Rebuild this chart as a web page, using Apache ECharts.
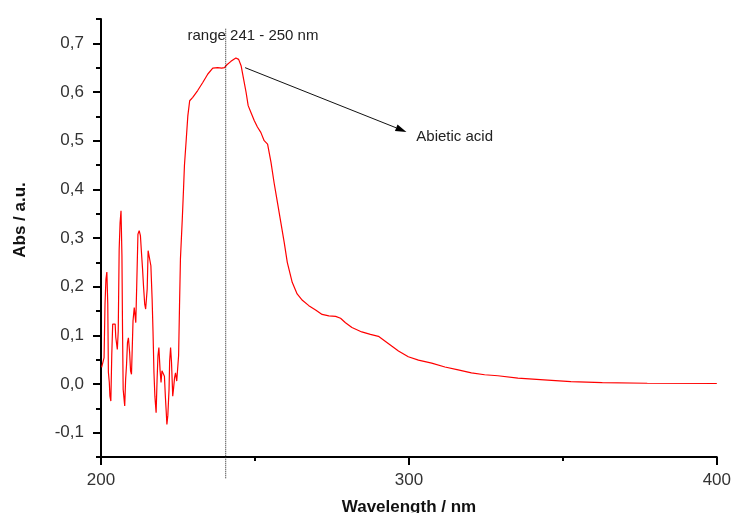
<!DOCTYPE html>
<html><head><meta charset="utf-8">
<script src="https://cdn.jsdelivr.net/npm/echarts@6/dist/echarts.min.js"></script>
<style>html,body{margin:0;padding:0;background:#fff}#c{width:734px;height:513px}</style>
</head><body><div id="c"></div>
<script>
// ---- data ----
const wavelength = [
200.2,200.7,201.0,201.3,201.6,201.9,202.2,202.4,202.7,202.9,203.2,203.5,203.8,204.2,204.6,204.8,205.3,205.6,205.9,206.2,
206.5,206.8,207.0,207.2,207.7,208.0,208.3,208.6,208.9,209.3,209.6,209.9,210.2,210.4,210.8,211.1,211.3,211.6,212.0,212.4,
212.8,213.1,213.5,213.8,214.2,214.5,215.0,215.3,215.8,216.2,216.6,216.9,217.2,217.5,217.9,218.2,218.5,218.8,219.2,219.5,
219.8,220.1,220.6,220.9,221.2,221.4,221.7,222.1,222.3,222.6,222.9,223.3,223.6,223.9,224.2,224.6,224.9,225.2,225.5,225.8,
226.4,226.8,227.1,227.7,228.2,228.8,229.8,231.4,233.1,234.7,236.3,237.9,239.2,240.1,240.9,242.2,243.8,244.7,245.5,246.3,
247.1,247.8,248.7,249.8,250.8,251.9,253.0,254.1,255.2,256.2,257.3,258.4,259.5,260.5,262.1,263.7,265.4,267.5,269.7,271.8,
274.0,276.2,277.8,279.4,281.5,284.7,287.5,290.1,292.3,294.4,296.6,299.8,303.1,307.4,311.7,316.0,320.3,324.6,328.9,335.4,
345.1,352.6,362.8,377.4,400.0
];
const absorbance = [
0.034,0.030,0.054,0.164,0.215,0.230,0.164,0.024,0.003,-0.025,-0.035,0.061,0.123,0.124,0.123,0.096,0.071,0.109,0.277,0.332,
0.356,0.263,0.106,-0.011,-0.045,0.010,0.040,0.085,0.095,0.065,0.027,0.020,0.085,0.130,0.157,0.160,0.126,0.202,0.308,0.315,
0.305,0.274,0.236,0.202,0.164,0.154,0.195,0.274,0.274,0.243,0.175,0.106,0.023,-0.025,-0.059,0.006,0.058,0.075,0.027,0.003,
0.027,0.027,0.016,-0.025,-0.059,-0.083,-0.065,-0.011,0.047,0.075,0.044,-0.025,-0.007,0.013,0.023,0.006,0.003,0.058,0.160,0.257,
0.339,0.400,0.449,0.504,0.551,0.582,0.589,0.603,0.620,0.637,0.649,0.650,0.649,0.650,0.656,0.663,0.670,0.667,0.654,0.627,
0.600,0.572,0.558,0.541,0.528,0.517,0.500,0.493,0.456,0.414,0.373,0.332,0.291,0.250,0.209,0.185,0.172,0.161,0.152,0.143,
0.140,0.139,0.135,0.126,0.116,0.107,0.102,0.098,0.088,0.078,0.068,0.056,0.049,0.043,0.035,0.029,0.023,0.019,0.017,0.012,
0.008,0.005,0.003,0.0015,0.001
];
const xMajorTicks = [200, 300, 400];
const yMajorTicks = [-0.1, 0.0, 0.1, 0.2, 0.3, 0.4, 0.5, 0.6, 0.7];
const yMinorTicks = [-0.15, -0.05, 0.05, 0.15, 0.25, 0.35, 0.45, 0.55, 0.65, 0.75];
const xTitle = 'Wavelength / nm';
const yTitle = 'Abs / a.u.';
// annotations
const rangeLineX = 240.5;
const rangeLineSpan = [0.73, -0.195];
const rangeLabel = 'range 241 - 250 nm';
const rangeLabelAt = [228.1, 0.715];
const arrowFrom = [246.8, 0.650];
const arrowTo = [299.2, 0.518];
const arrowLabel = 'Abietic acid';
const arrowLabelAt = [302.4, 0.508];

const FONT = '"Liberation Sans", Arial, sans-serif';
const fmt = v => (Math.round(v * 10) / 10).toFixed(1).replace('.', ',');

const chart = echarts.init(document.getElementById('c'), null, {renderer: 'canvas'});
const seriesData = wavelength.map((w, i) => [w, absorbance[i]]);

chart.setOption({
  animation: false,
  backgroundColor: '#fff',
  grid: {left: 101, right: 14, top: 19, bottom: 56, containLabel: false},
  xAxis: {
    type: 'value', min: 200, max: 400, interval: 100,
    axisLine: {onZero: false, lineStyle: {color: '#000', width: 2}},
    axisTick: {length: 8, lineStyle: {color: '#000', width: 2}},
    minorTick: {show: true, splitNumber: 2, length: 4, lineStyle: {color: '#000', width: 2}},
    axisLabel: {margin: 15, fontSize: 17, color: '#333', fontFamily: FONT,
      formatter: v => xMajorTicks.includes(v) ? String(v) : ''},
    splitLine: {show: false}
  },
  yAxis: [{
    type: 'value', min: -0.15, max: 0.75, position: 'left',
    axisLine: {onZero: false, lineStyle: {color: '#000', width: 2}},
    axisTick: {length: 8, customValues: yMajorTicks, lineStyle: {color: '#000', width: 2}},
    axisLabel: {margin: 17, fontSize: 17, color: '#333', fontFamily: FONT,
      customValues: yMajorTicks, formatter: v => fmt(v)},
    splitLine: {show: false}
  }, {
    type: 'value', min: -0.15, max: 0.75, position: 'left', offset: 0,
    axisLine: {show: false, onZero: false},
    axisTick: {length: 5, customValues: yMinorTicks, lineStyle: {color: '#000', width: 2}},
    axisLabel: {show: false},
    splitLine: {show: false}
  }],
  series: [{
    type: 'line', data: seriesData, showSymbol: false, symbol: 'none',
    lineStyle: {color: '#ff0000', width: 1.2}, clip: true, z: 3
  }]
});

// annotations placed through the axes' scales
const px = p => chart.convertToPixel({xAxisIndex: 0, yAxisIndex: 0}, p);
const lt = px([rangeLineX, rangeLineSpan[0]]);
const lb = px([rangeLineX, rangeLineSpan[1]]);
const a0 = px(arrowFrom);
const a1 = px(arrowTo);
const ang = Math.atan2(a1[1] - a0[1], a1[0] - a0[0]);
const hl = 11, hw = 3.5;
const base = [a1[0] - hl * Math.cos(ang), a1[1] - hl * Math.sin(ang)];
const head = [
  a1,
  [base[0] + hw * Math.sin(ang), base[1] - hw * Math.cos(ang)],
  [base[0] - hw * Math.sin(ang), base[1] + hw * Math.cos(ang)]
];
const rl = px(rangeLabelAt);
const al = px(arrowLabelAt);
const gTop = 19, gBottom = 513 - 56, gLeft = 101, gRight = 734 - 14;

chart.setOption({
  graphic: [
    {type: 'line', shape: {x1: lt[0], y1: lt[1], x2: lb[0], y2: lb[1]},
     style: {stroke: '#222', lineWidth: 1, lineDash: [1, 1]}, z: 10},
    {type: 'line', shape: {x1: a0[0], y1: a0[1], x2: base[0], y2: base[1]},
     style: {stroke: '#111', lineWidth: 1}, z: 10},
    {type: 'polygon', shape: {points: head}, style: {fill: '#000'}, z: 10},
    {type: 'text', x: rl[0], y: rl[1], z: 11,
     style: {text: rangeLabel, font: '15px ' + FONT, fill: '#222', textAlign: 'left', textVerticalAlign: 'middle'}},
    {type: 'text', x: al[0], y: al[1], z: 11,
     style: {text: arrowLabel, font: '15px ' + FONT, fill: '#222', textAlign: 'left', textVerticalAlign: 'middle'}},
    {type: 'text', x: 409, y: gBottom + 50, z: 11,
     style: {text: xTitle, font: 'bold 17px ' + FONT, fill: '#111', textAlign: 'center', textVerticalAlign: 'middle'}},
    {type: 'text', x: 20, y: 220, rotation: Math.PI / 2, z: 11,
     style: {text: yTitle, font: 'bold 17px ' + FONT, fill: '#111', textAlign: 'center', textVerticalAlign: 'middle'}}
  ]
});
</script>
</body></html>
